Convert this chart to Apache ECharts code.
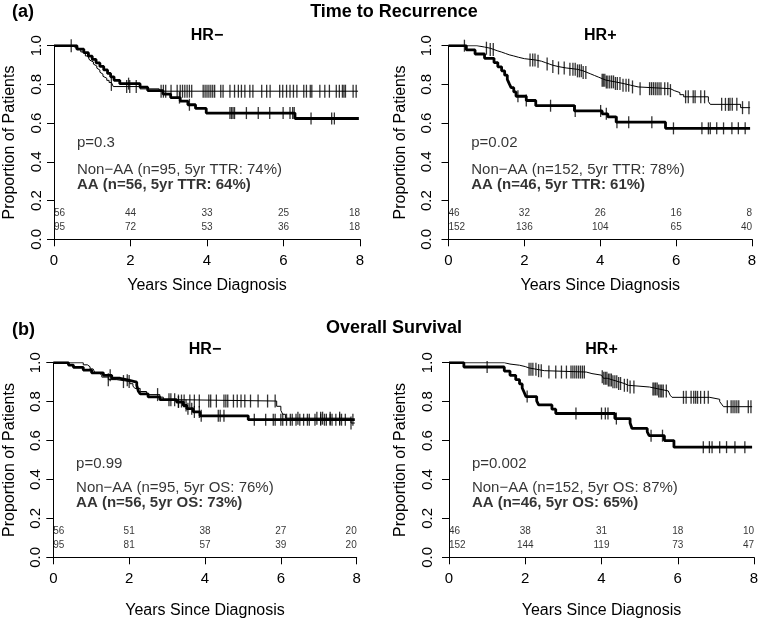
<!DOCTYPE html>
<html><head><meta charset="utf-8">
<script src="https://cdn.jsdelivr.net/npm/echarts@6/dist/echarts.min.js"></script>
<style>html,body{margin:0;padding:0;background:#fff}#c{width:758px;height:619px}</style>
</head><body><div id="c"></div>
<script>
const FONT = "'Liberation Sans', Arial, Helvetica, sans-serif";
const riskTimes = [0, 2, 4, 6, 8];

// ---- (a) Time to Recurrence, HR- ----
const ttrNegNonAA = [[0,1],[0.55,0.989],[0.62,0.979],[0.7,0.968],[0.76,0.958],[0.82,0.947],[0.88,0.937],[0.93,0.926],[0.98,0.916],[1.03,0.905],[1.08,0.895],[1.12,0.884],[1.16,0.874],[1.2,0.863],[1.24,0.853],[1.28,0.842],[1.33,0.832],[1.38,0.821],[1.44,0.81],[1.5,0.8],[1.55,0.789],[2.25,0.777],[2.75,0.765],[7.95,0.765]];
const ttrNegAA = [[0,1],[0.6,0.982],[0.78,0.964],[0.9,0.946],[1.0,0.929],[1.1,0.911],[1.2,0.893],[1.3,0.875],[1.4,0.857],[1.48,0.839],[1.57,0.821],[1.72,0.804],[2.25,0.786],[2.45,0.768],[2.85,0.75],[3.05,0.732],[3.3,0.714],[3.5,0.695],[3.7,0.676],[3.98,0.652],[6.3,0.624],[7.97,0.624]];
const ttrNegNonAACens = [0.45,1.5,1.9,1.98,2.15,2.8,2.86,2.92,3.06,3.22,3.3,3.36,3.42,3.48,3.54,3.6,3.9,3.95,4.0,4.05,4.1,4.15,4.2,4.36,4.42,4.6,4.72,4.82,4.9,4.99,5.12,5.2,5.43,5.56,5.65,5.9,5.98,6.08,6.17,6.26,6.35,6.53,6.6,6.7,6.74,6.95,7.08,7.2,7.38,7.46,7.54,7.58,7.62,7.82,7.9];
const ttrNegAACens = [1.95,3.28,3.54,4.6,4.64,4.68,4.72,5.03,5.34,5.64,5.99,6.17,6.24,6.28,6.72,7.26,7.33];
const ttrNegRiskAA = [56,44,33,25,18];
const ttrNegRiskNonAA = [95,72,53,36,18];
const ttrNegText = ['p=0.3','Non\u2212AA (n=95, 5yr TTR: 74%)','AA (n=56, 5yr TTR: 64%)'];

// ---- (a) Time to Recurrence, HR+ ----
const ttrPosNonAA = [[0,1],[0.75,0.993],[0.95,0.987],[1.1,0.98],[1.2,0.973],[1.3,0.967],[1.4,0.96],[1.5,0.953],[1.6,0.947],[1.72,0.94],[1.85,0.933],[2.0,0.926],[2.3,0.92],[2.45,0.913],[2.55,0.906],[2.65,0.899],[2.75,0.892],[2.9,0.885],[3.1,0.878],[3.4,0.87],[3.55,0.862],[3.65,0.854],[3.75,0.846],[3.85,0.838],[3.95,0.83],[4.05,0.822],[4.15,0.813],[4.4,0.805],[4.6,0.796],[4.8,0.787],[5.0,0.778],[5.85,0.768],[5.95,0.758],[6.1,0.747],[6.2,0.736],[6.85,0.712],[6.9,0.697],[7.7,0.68],[7.95,0.68]];
const ttrPosAA = [[0,1],[0.47,0.978],[0.7,0.957],[0.95,0.935],[1.2,0.913],[1.3,0.891],[1.4,0.87],[1.48,0.848],[1.55,0.826],[1.6,0.804],[1.65,0.783],[1.72,0.761],[1.78,0.739],[2.05,0.717],[2.3,0.69],[3.32,0.663],[4.05,0.648],[4.2,0.632],[4.42,0.605],[5.72,0.573],[7.95,0.573]];
const ttrPosNonAACens = [1.0,1.1,1.18,2.15,2.22,2.28,2.36,2.6,2.75,2.9,3.05,3.2,3.28,3.34,3.4,3.45,3.5,3.55,3.62,4.05,4.08,4.12,4.16,4.2,4.25,4.3,4.35,4.4,4.45,4.52,4.6,4.68,4.75,4.85,5.05,5.3,5.35,5.4,5.45,5.5,5.55,5.6,5.7,5.78,5.85,6.25,6.32,6.45,6.5,6.65,6.75,7.2,7.3,7.38,7.42,7.48,7.6,7.75,7.92];
const ttrPosAACens = [0.42,1.83,2.05,2.69,3.34,4.01,4.16,4.44,4.75,5.36,5.93,6.68,6.85,6.9,7.07,7.25,7.47,7.64,7.82];
const ttrPosRiskAA = [46,32,26,16,8];
const ttrPosRiskNonAA = [152,136,104,65,40];
const ttrPosText = ['p=0.02','Non\u2212AA (n=152, 5yr TTR: 78%)','AA (n=46, 5yr TTR: 61%)'];

// ---- (b) Overall Survival, HR- ----
const osNegNonAA = [[0,1],[0.79,0.989],[0.9,0.979],[0.97,0.968],[1.05,0.958],[1.1,0.947],[1.2,0.937],[1.28,0.926],[1.45,0.913],[1.67,0.903],[2.02,0.892],[2.1,0.88],[2.15,0.868],[2.29,0.852],[2.46,0.836],[2.81,0.823],[2.9,0.81],[3.25,0.803],[5.89,0.776],[6.0,0.755],[6.05,0.735],[6.12,0.715],[7.85,0.69],[7.95,0.69]];
const osNegAA = [[0,1],[0.4,0.988],[0.53,0.976],[0.79,0.962],[1.01,0.948],[1.32,0.935],[1.54,0.92],[1.76,0.91],[1.98,0.9],[2.2,0.884],[2.24,0.855],[2.29,0.84],[2.5,0.824],[2.81,0.81],[3.25,0.798],[3.43,0.78],[3.52,0.764],[3.69,0.747],[3.87,0.727],[5.14,0.707],[7.95,0.707]];
const osNegNonAACens = [1.45,1.85,2.0,2.75,3.05,3.1,3.2,3.3,3.38,3.45,3.6,3.72,3.85,4.1,4.15,4.3,4.5,4.55,4.6,4.75,4.85,4.95,5.05,5.2,5.4,5.65,5.85,6.45,6.95,7.05,7.1,7.3,7.55,7.85];
const osNegAACens = [1.5,1.95,3.3,3.5,3.55,3.65,3.72,3.85,3.9,4.35,4.4,4.5,5.3,5.6,5.8,5.85,6.0,6.05,6.15,6.25,6.3,6.4,6.5,6.6,6.7,6.75,6.9,7.05,7.15,7.2,7.3,7.35,7.45,7.55,7.6,7.7,7.9];
const osNegRiskAA = [56,51,38,27,20];
const osNegRiskNonAA = [95,81,57,39,20];
const osNegText = ['p=0.99','Non\u2212AA (n=95, 5yr OS: 76%)','AA (n=56, 5yr OS: 73%)'];

// ---- (b) Overall Survival, HR+ ----
const osPosNonAA = [[0,1],[1.45,0.993],[1.6,0.987],[1.85,0.98],[2.0,0.973],[2.1,0.966],[2.3,0.959],[2.5,0.952],[3.6,0.944],[3.75,0.936],[4.0,0.928],[4.05,0.92],[4.15,0.911],[4.3,0.902],[4.45,0.893],[4.6,0.884],[4.7,0.875],[5.26,0.865],[5.5,0.855],[5.75,0.845],[5.8,0.833],[5.85,0.822],[6.84,0.812],[7.1,0.8],[7.15,0.787],[7.2,0.774],[7.95,0.774]];
const osPosAA = [[0,1],[0.39,0.978],[1.45,0.957],[1.6,0.935],[1.75,0.913],[1.85,0.891],[1.92,0.87],[1.97,0.848],[2.02,0.826],[2.3,0.804],[2.35,0.783],[2.7,0.761],[2.8,0.739],[4.35,0.713],[4.75,0.69],[4.8,0.662],[5.2,0.644],[5.25,0.625],[5.65,0.6],[5.9,0.566],[7.95,0.566]];
const osPosNonAACens = [2.1,2.15,2.2,2.28,2.35,2.42,2.62,2.8,2.95,3.08,3.2,3.25,3.3,3.35,3.4,3.45,3.5,3.55,4.02,4.06,4.1,4.14,4.18,4.22,4.26,4.3,4.35,4.4,4.45,4.5,4.6,4.68,4.75,4.85,5.35,5.38,5.42,5.46,5.5,5.54,5.58,5.62,5.7,6.15,6.22,6.35,6.42,6.47,6.52,6.6,6.7,6.8,7.3,7.4,7.45,7.5,7.55,7.6,7.85,7.92];
const osPosAACens = [1.0,2.05,3.33,4.0,4.1,4.17,4.39,5.3,5.6,6.67,6.83,6.9,7.1,7.28,7.5,7.76];
const osPosRiskAA = [46,38,31,18,10];
const osPosRiskNonAA = [152,144,119,73,47];
const osPosText = ['p=0.002','Non\u2212AA (n=152, 5yr OS: 87%)','AA (n=46, 5yr OS: 65%)'];

// layout
const grids = [
  {left:54, top:45.7, width:306, height:193.6},
  {left:448.5, top:45.7, width:303.5, height:193.6},
  {left:53.3, top:362.7, width:303.4, height:194.6},
  {left:449, top:362.7, width:305, height:194.6}
];
const yLabelMargin = [10, 14, 10, 14];
const yNameGap = [36, 40, 36, 40];
const panels = [
  {thin:ttrNegNonAA, thick:ttrNegAA, thinC:ttrNegNonAACens, thickC:ttrNegAACens, rA:ttrNegRiskAA, rN:ttrNegRiskNonAA, text:ttrNegText, title:'HR\u2212', pY:0.5},
  {thin:ttrPosNonAA, thick:ttrPosAA, thinC:ttrPosNonAACens, thickC:ttrPosAACens, rA:ttrPosRiskAA, rN:ttrPosRiskNonAA, text:ttrPosText, title:'HR+', pY:0.5},
  {thin:osNegNonAA, thick:osNegAA, thinC:osNegNonAACens, thickC:osNegAACens, rA:osNegRiskAA, rN:osNegRiskNonAA, text:osNegText, title:'HR\u2212', pY:0.48},
  {thin:osPosNonAA, thick:osPosAA, thinC:osPosNonAACens, thickC:osPosAACens, rA:osPosRiskAA, rN:osPosRiskNonAA, text:osPosText, title:'HR+', pY:0.48}
];

function survAt(steps, t) {
  let s = steps[0][1];
  for (const p of steps) { if (p[0] <= t) s = p[1]; else break; }
  return s;
}

const xAxes = [], yAxes = [], series = [], graphics = [];
grids.forEach((g, i) => {
  const xNameGap = i < 2 ? 38 : 45;
  xAxes.push({
    gridIndex:i, type:'value', min:0, max:8, interval:2,
    axisLine:{show:true, onZero:false, lineStyle:{color:'#000', width:1}},
    axisTick:{show:true, length:7, lineStyle:{color:'#000', width:1}},
    axisLabel:{fontSize:15, color:'#000', margin:14, fontFamily:FONT},
    splitLine:{show:false},
    name:'Years Since Diagnosis', nameLocation:'middle', nameGap:xNameGap,
    nameTextStyle:{fontSize:16, color:'#000', fontFamily:FONT}
  });
  yAxes.push({
    gridIndex:i, type:'value', min:0, max:1, interval:0.2,
    axisLine:{show:true, onZero:false, lineStyle:{color:'#000', width:1}},
    axisTick:{show:true, length:7, lineStyle:{color:'#000', width:1}},
    axisLabel:{fontSize:15, color:'#000', rotate:90, margin:yLabelMargin[i], fontFamily:FONT, formatter:v=>v.toFixed(1)},
    splitLine:{show:false},
    name:'Proportion of Patients', nameLocation:'middle', nameGap:yNameGap[i], nameRotate:90,
    nameTextStyle:{fontSize:16, color:'#000', fontFamily:FONT}
  });
  const P = panels[i];
  const base = {xAxisIndex:i, yAxisIndex:i, silent:true, animation:false};
  series.push(Object.assign({type:'line', step:'end', symbol:'none', data:P.thin, lineStyle:{color:'#000', width:1}}, base));
  series.push(Object.assign({type:'line', step:'end', symbol:'none', data:P.thick, lineStyle:{color:'#000', width:2.8}}, base));
  series.push(Object.assign({type:'scatter', symbol:'rect', symbolSize:[1.3,13], itemStyle:{color:'#000'},
    data:P.thinC.map(t=>[t, survAt(P.thin, t)])}, base));
  series.push(Object.assign({type:'scatter', symbol:'rect', symbolSize:[1.3,12], itemStyle:{color:'#000'},
    data:P.thickC.map(t=>[t, survAt(P.thick, t)])}, base));
  // numbers at risk
  const riskItems = [];
  [[P.rA, 0.132],[P.rN, 0.06]].forEach(([arr, yy]) => {
    arr.forEach((n, k) => {
      const t = riskTimes[k];
      riskItems.push({value:[t, yy, n], label:{align: t===0 ? 'left' : (t===8 ? 'right' : 'center')}});
    });
  });
  series.push(Object.assign({type:'scatter', symbolSize:1, itemStyle:{color:'rgba(0,0,0,0)'},
    label:{show:true, position:'inside', verticalAlign:'middle', fontSize:10, color:'#000', fontFamily:FONT, formatter:p=>String(p.value[2])},
    data:riskItems}, base));
  // annotations
  const ann = [
    {value:[0.6, P.pY], name:P.text[0], label:{fontWeight:'normal'}},
    {value:[0.6, 0.358], name:P.text[1], label:{fontWeight:'normal'}},
    {value:[0.6, 0.279], name:P.text[2], label:{fontWeight:'bold'}}
  ];
  series.push(Object.assign({type:'scatter', symbolSize:1, itemStyle:{color:'rgba(0,0,0,0)'},
    label:{show:true, position:'inside', align:'left', verticalAlign:'middle', fontSize:15, color:'#000', fontFamily:FONT, formatter:p=>p.name},
    data:ann}, base));
  // panel title
  graphics.push({type:'text', x:g.left + g.width/2, y:i<2 ? 36 : 350,
    style:{text:P.title, font:'bold 16px ' + FONT, fill:'#000', textAlign:'center', textVerticalAlign:'middle', verticalAlign:'middle'}});
});

graphics.push({type:'text', x:12, y:12, style:{text:'(a)', font:'bold 18px ' + FONT, fill:'#000', textAlign:'left', textVerticalAlign:'middle', verticalAlign:'middle'}});
graphics.push({type:'text', x:394, y:12, style:{text:'Time to Recurrence', font:'bold 18px ' + FONT, fill:'#000', textAlign:'center', textVerticalAlign:'middle', verticalAlign:'middle'}});
graphics.push({type:'text', x:12, y:330, style:{text:'(b)', font:'bold 18px ' + FONT, fill:'#000', textAlign:'left', textVerticalAlign:'middle', verticalAlign:'middle'}});
graphics.push({type:'text', x:394, y:328, style:{text:'Overall Survival', font:'bold 18px ' + FONT, fill:'#000', textAlign:'center', textVerticalAlign:'middle', verticalAlign:'middle'}});

const chart = echarts.init(document.getElementById('c'), null, {renderer:'canvas'});
chart.setOption({
  backgroundColor:'#fff',
  animation:false,
  textStyle:{fontFamily:FONT},
  grid:grids.map(g=>Object.assign({outerBoundsMode:'none', containLabel:false}, g)),
  xAxis:xAxes, yAxis:yAxes, series:series, graphic:graphics
});
</script></body></html>
